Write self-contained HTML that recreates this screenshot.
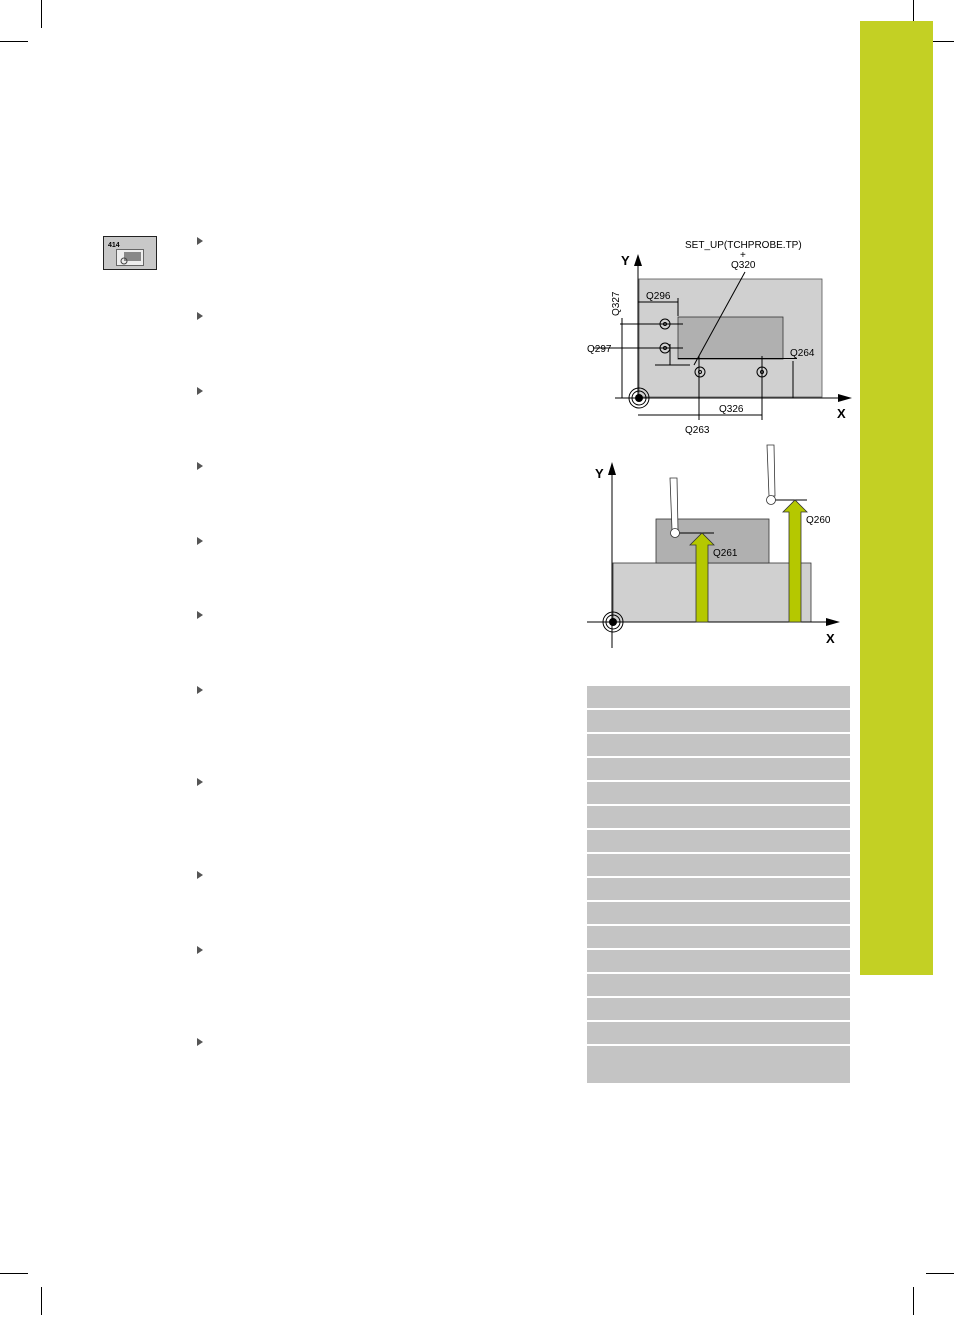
<!DOCTYPE html>
<html><head><meta charset="utf-8"><style>
html,body{margin:0;padding:0;background:#fff;}
body{width:954px;height:1315px;position:relative;overflow:hidden;font-family:"Liberation Sans",sans-serif;}
</style></head><body>
<svg width="954" height="1315" viewBox="0 0 954 1315" xmlns="http://www.w3.org/2000/svg" font-family="Liberation Sans, sans-serif">
<g stroke="#000" stroke-width="1">
<line x1="41.5" y1="0" x2="41.5" y2="28"/><line x1="913.5" y1="0" x2="913.5" y2="28"/>
<line x1="0" y1="41.5" x2="28" y2="41.5"/><line x1="926" y1="41.5" x2="954" y2="41.5"/>
<line x1="41.5" y1="1287" x2="41.5" y2="1315"/><line x1="913.5" y1="1287" x2="913.5" y2="1315"/>
<line x1="0" y1="1273.5" x2="28" y2="1273.5"/><line x1="926" y1="1273.5" x2="954" y2="1273.5"/>
</g>
<rect x="860" y="21" width="73" height="954" fill="#c3d024"/>
<rect x="103.5" y="236.5" width="53" height="33" fill="#c8c8c8" stroke="#222"/>
<text x="108" y="247" font-size="7" font-weight="bold">414</text>
<rect x="116.5" y="249.5" width="27" height="16" fill="#eee" stroke="#666"/>
<rect x="124" y="252" width="17" height="9" fill="#888"/>
<circle cx="124" cy="261" r="3" fill="none" stroke="#444"/>
<g fill="#555">
<path d="M197 237l6 4-6 4z"/><path d="M197 312l6 4-6 4z"/><path d="M197 387l6 4-6 4z"/>
<path d="M197 462l6 4-6 4z"/><path d="M197 537l6 4-6 4z"/><path d="M197 611l6 4-6 4z"/>
<path d="M197 686l6 4-6 4z"/><path d="M197 778l6 4-6 4z"/><path d="M197 871l6 4-6 4z"/>
<path d="M197 946l6 4-6 4z"/><path d="M197 1038l6 4-6 4z"/>
</g>
<rect x="639" y="279" width="183" height="118" fill="#d0d0d0" stroke="#555" stroke-width="0.8"/>
<rect x="678" y="317" width="105" height="42" fill="#b0b0b0" stroke="#333" stroke-width="0.8"/>
<g stroke="#000" stroke-width="1" fill="none">
<line x1="638" y1="262" x2="638" y2="398"/>
<line x1="615" y1="398" x2="840" y2="398"/>
<line x1="678" y1="358.5" x2="797" y2="358.5"/>
<line x1="620" y1="324" x2="683" y2="324"/>
<line x1="593" y1="348" x2="683" y2="348"/>
<line x1="622" y1="318" x2="622" y2="398"/>
<line x1="638" y1="302" x2="678" y2="302"/><line x1="678" y1="298" x2="678" y2="316"/>
<line x1="699" y1="356" x2="699" y2="420"/><line x1="762" y1="356" x2="762" y2="420"/>
<line x1="638" y1="415" x2="699" y2="415"/><line x1="699" y1="415" x2="762" y2="415"/>
<line x1="793" y1="361" x2="793" y2="398"/>
<line x1="655" y1="365" x2="690" y2="365"/><line x1="670" y1="344" x2="670" y2="365"/>
<line x1="694" y1="365" x2="745" y2="272"/>
<circle cx="665" cy="324" r="5"/><circle cx="665" cy="324" r="1.5"/>
<circle cx="665" cy="348" r="5"/><circle cx="665" cy="348" r="1.5"/>
<circle cx="700" cy="372" r="5"/><circle cx="700" cy="372" r="1.5"/>
<circle cx="762" cy="372" r="5"/><circle cx="762" cy="372" r="1.5"/>
<circle cx="639" cy="398" r="10"/><circle cx="639" cy="398" r="7"/>
</g>
<circle cx="639" cy="398" r="4" fill="#000"/>
<path d="M638 254l-4 12h8z"/><path d="M852 398l-14-4v8z"/>
<g font-size="10" fill="#000">
<text x="685" y="248">SET_UP(TCHPROBE.TP)</text>
<text x="740" y="258">+</text>
<text x="731" y="268">Q320</text>
<text x="646" y="299">Q296</text>
<text x="587" y="352">Q297</text>
<text x="790" y="356">Q264</text>
<text x="719" y="412">Q326</text>
<text x="685" y="433">Q263</text>
<text transform="translate(619,316) rotate(-90)">Q327</text>
</g>
<text x="621" y="265" font-size="13" font-weight="bold">Y</text>
<text x="837" y="418" font-size="13" font-weight="bold">X</text>
<rect x="613" y="563" width="198" height="59" fill="#d0d0d0" stroke="#333" stroke-width="0.8"/>
<rect x="656" y="519" width="113" height="44" fill="#b0b0b0" stroke="#333" stroke-width="0.8"/>
<g stroke="#000" stroke-width="1" fill="none">
<line x1="612" y1="470" x2="612" y2="648"/>
<line x1="587" y1="622" x2="828" y2="622"/>
<line x1="675" y1="533" x2="714" y2="533"/>
<line x1="771" y1="500" x2="807" y2="500"/>
<circle cx="613" cy="622" r="10"/><circle cx="613" cy="622" r="7"/>
</g>
<circle cx="613" cy="622" r="4" fill="#000"/>
<path d="M612 462l-4 13h8z"/><path d="M840 622l-14-4v8z"/>
<g fill="#b5c800" stroke="#333" stroke-width="0.8">
<path d="M696 622V545h-6l12-12 12 12h-6v77z"/>
<path d="M789 622V512h-6l12-12 12 12h-6v110z"/>
</g>
<g fill="#fff" stroke="#333" stroke-width="0.8">
<path d="M670 478h7l1 52h-6z"/><circle cx="675" cy="533" r="4.5"/>
<path d="M767 445h7l1 51h-6z"/><circle cx="771" cy="500" r="4.5"/>
</g>
<g font-size="10"><text x="713" y="556">Q261</text><text x="806" y="523">Q260</text></g>
<text x="595" y="478" font-size="13" font-weight="bold">Y</text>
<text x="826" y="643" font-size="13" font-weight="bold">X</text>
<g fill="#c4c4c4">
<rect x="587" y="686" width="263" height="22"/><rect x="587" y="710" width="263" height="22"/>
<rect x="587" y="734" width="263" height="22"/><rect x="587" y="758" width="263" height="22"/>
<rect x="587" y="782" width="263" height="22"/><rect x="587" y="806" width="263" height="22"/>
<rect x="587" y="830" width="263" height="22"/><rect x="587" y="854" width="263" height="22"/>
<rect x="587" y="878" width="263" height="22"/><rect x="587" y="902" width="263" height="22"/>
<rect x="587" y="926" width="263" height="22"/><rect x="587" y="950" width="263" height="22"/>
<rect x="587" y="974" width="263" height="22"/><rect x="587" y="998" width="263" height="22"/>
<rect x="587" y="1022" width="263" height="22"/><rect x="587" y="1046" width="263" height="37"/>
</g>
</svg>
</body></html>
